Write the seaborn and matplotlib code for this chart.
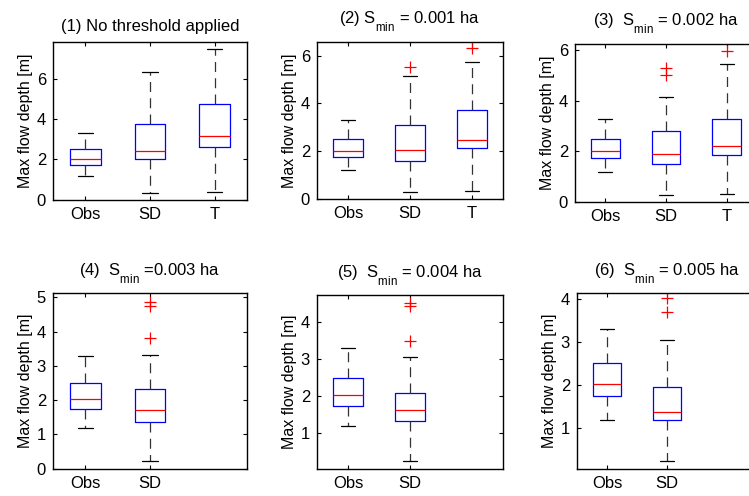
import pandas as pd
import matplotlib.pyplot as plt
import seaborn as sns

# -------------------------------------------------------------
# STYLE
# -------------------------------------------------------------
sns.set_theme(style='ticks')
plt.rcParams['font.family'] = ['Liberation Sans', 'DejaVu Sans']
plt.rcParams['mathtext.fontset'] = 'custom'
plt.rcParams['mathtext.rm'] = 'Liberation Sans'
plt.rcParams['mathtext.it'] = 'Liberation Sans:italic'
plt.rcParams['mathtext.bf'] = 'Liberation Sans:bold'
for k in ['text.color', 'axes.labelcolor', 'xtick.color', 'ytick.color', 'axes.edgecolor']:
    plt.rcParams[k] = 'black'

# subscripts sit lower in the original (MATLAB tex interpreter)
try:
    import matplotlib._mathtext as _mt
    _mt.FontConstantsBase.sub1 = 0.9
except Exception:
    pass

# -------------------------------------------------------------
# DATA (box statistics)
# -------------------------------------------------------------
titles = ['(1) No threshold applied',
          r'(2) S$_{\rm min}$ = 0.001 ha',
          r'(3)  S$_{\rm min}$ = 0.002 ha',
          r'(4)  S$_{\rm min}$ =0.003 ha',
          r'(5)  S$_{\rm min}$ = 0.004 ha',
          r'(6)  S$_{\rm min}$ = 0.005 ha']

groups = [['Obs', 'SD', 'T'], ['Obs', 'SD', 'T'], ['Obs', 'SD', 'T'],
          ['Obs', 'SD'], ['Obs', 'SD'], ['Obs', 'SD']]

whisk_lo = [[1.20, 0.36, 0.39], [1.20, 0.29, 0.34], [1.20, 0.29, 0.33],
            [1.20, 0.22], [1.20, 0.23], [1.20, 0.25]]
q1 = [[1.74, 2.00, 2.64], [1.74, 1.57, 2.13], [1.74, 1.52, 1.85],
      [1.74, 1.36], [1.74, 1.33], [1.74, 1.19]]
med = [[2.02, 2.44, 3.15], [2.02, 2.03, 2.45], [2.02, 1.91, 2.22],
       [2.02, 1.70], [2.02, 1.61], [2.02, 1.38]]
q3 = [[2.50, 3.75, 4.77], [2.50, 3.10, 3.72], [2.50, 2.81, 3.30],
      [2.50, 2.33], [2.50, 2.08], [2.50, 1.96]]
whisk_hi = [[3.30, 6.33, 7.46], [3.30, 5.15, 5.75], [3.30, 4.16, 5.46],
            [3.30, 3.32], [3.30, 3.05], [3.30, 3.05]]
outliers = [[[], [], []],
            [[], [5.54], [6.31]],
            [[], [5.01, 5.30], [5.98]],
            [[], [3.81, 4.74, 4.88]],
            [[], [3.50, 4.44, 4.51]],
            [[], [3.70, 4.01]]]

ylims = [(-0.01, 7.82), (-0.01, 6.58), (0.0, 6.25),
         (-0.01, 5.13), (0.02, 4.74), (0.06, 4.13)]
yticks = [[0, 2, 4, 6], [0, 2, 4, 6], [0, 2, 4, 6],
          [0, 1, 2, 3, 4, 5], [1, 2, 3, 4], [1, 2, 3, 4]]

# axes rectangles in pixels (left, top, right, bottom) of a 749x496 canvas
W, H = 749, 496
boxes_px = [(53, 42, 247, 200), (317, 42, 503, 199), (575, 44, 757, 202),
            (53, 293, 247, 469), (317, 295, 503, 469), (577, 293, 757, 469)]
title_pad = [8, 13, 13, 12, 12, 12]


def build_sample(lo, a, m, b, hi, fl):
    # small sample whose quartiles/whiskers reproduce the read statistics
    return [lo] + [a] * 5 + [m] * 5 + [b] * 5 + [hi] + list(fl)


# -------------------------------------------------------------
# FIGURE
# -------------------------------------------------------------
fig = plt.figure(figsize=(W / 100, H / 100), dpi=100)

for i in range(6):
    l, t, r, b = boxes_px[i]
    ax = fig.add_axes([l / W, 1 - b / H, (r - l) / W, (b - t) / H])

    rows = []
    for j, g in enumerate(groups[i]):
        vals = build_sample(whisk_lo[i][j], q1[i][j], med[i][j], q3[i][j],
                            whisk_hi[i][j], outliers[i][j])
        rows += [{'grupo': g, 'valor': v} for v in vals]
    df = pd.DataFrame(rows)

    sns.boxplot(data=df, x='grupo', y='valor', order=groups[i], ax=ax,
                fill=False, width=0.47, whis=1.5, linewidth=0.9,
                boxprops=dict(color='blue'),
                medianprops=dict(color='red'),
                whiskerprops=dict(color='0.2', linestyle=(0, (8, 5))),
                capprops=dict(color='black'),
                flierprops=dict(marker='+', markeredgecolor='red',
                                markerfacecolor='red', markersize=8,
                                markeredgewidth=0.9))

    ax.set_xlim(-0.5, 2.5)
    ax.set_xticks(range(len(groups[i])))
    ax.set_xticklabels(groups[i])
    ax.set_ylim(*ylims[i])
    ax.set_yticks(yticks[i])
    ax.set_xlabel('')
    ax.set_ylabel('Max flow depth [m]', fontsize=11.5, labelpad=2.5)
    ax.set_title(titles[i], fontsize=12, pad=title_pad[i])
    ax.tick_params(direction='in', top=True, right=True, length=3,
                   width=0.8, labelsize=12, pad=5)
    for s in ax.spines.values():
        s.set_linewidth(1.0)
        s.set_visible(True)

plt.savefig('out.png', dpi=100)
